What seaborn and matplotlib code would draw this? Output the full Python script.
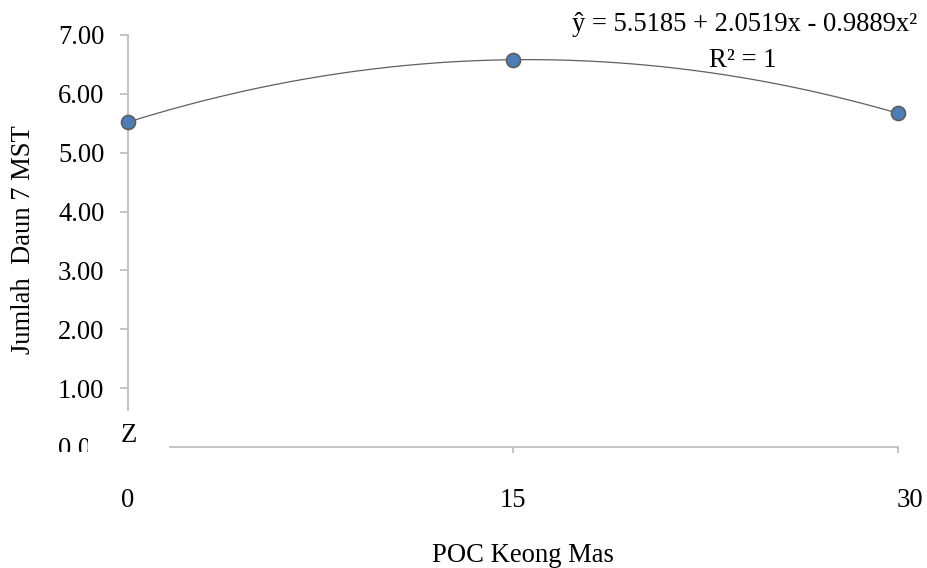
import matplotlib
matplotlib.use("Agg")
import matplotlib.pyplot as plt
import seaborn as sns
import pandas as pd
from matplotlib.transforms import Bbox, TransformedBbox, IdentityTransform, ScaledTranslation

# data
doses = [0, 15, 30]
leaves = [5.52, 6.58, 5.67]
y_ticks = [0, 1, 2, 3, 4, 5, 6, 7]
equation = "ŷ = 5.5185 + 2.0519x - 0.9889x²"
r2_text = "R² = 1"

df = pd.DataFrame({"POC Keong Mas": doses, "Jumlah Daun": leaves})

sns.set_theme(style="white")
plt.rcParams["font.family"] = ["Liberation Serif", "DejaVu Serif"]
plt.rcParams["text.color"] = "black"
plt.rcParams["axes.labelcolor"] = "black"
plt.rcParams["xtick.labelcolor"] = "black"
plt.rcParams["ytick.labelcolor"] = "black"

FS = 19.2
W, H = 927, 568
fig = plt.figure(figsize=(W / 100, H / 100), dpi=100)
ax = fig.add_axes([128 / W, 1 - 447 / H, (898 - 128) / W, (447 - 35) / H])

sns.regplot(data=df, x="POC Keong Mas", y="Jumlah Daun", order=2, ci=None,
            scatter=False, ax=ax, line_kws=dict(color="#5f5f5f", lw=0.9))
sns.scatterplot(data=df, x="POC Keong Mas", y="Jumlah Daun", ax=ax, s=100,
                color="#4a7ebb", edgecolor="#5f5f5f", linewidth=1.3,
                zorder=5, clip_on=False)

ax.set_xlim(0, 30)
ax.set_ylim(0, 7)
ax.set_xticks(doses)
ax.set_xticklabels([str(d) for d in doses])
ax.set_yticks(y_ticks)
ax.set_yticklabels([f"{v:.2f}" for v in y_ticks])

for s in ["top", "right"]:
    ax.spines[s].set_visible(False)
for s in ["left", "bottom"]:
    ax.spines[s].set_color("#bfbfbf")
    ax.spines[s].set_linewidth(1.3)
ax.spines["left"].set_bounds(0.63, 7)
ax.spines["bottom"].set_bounds(1.64, 30)

ax.tick_params(axis="y", which="major", direction="out", length=6, width=1.3,
               color="#bfbfbf", labelsize=FS, labelcolor="black", pad=11, left=True)
ax.tick_params(axis="x", which="major", direction="out", length=4.5, width=1.3,
               color="#bfbfbf", labelsize=FS, labelcolor="black", pad=25, bottom=True)
ax.xaxis.get_major_ticks()[0].tick1line.set_visible(False)
ax.yaxis.get_major_ticks()[0].tick1line.set_visible(False)

# shift "30" label slightly right
lbl30 = ax.get_xticklabels()[2]
lbl30.set_transform(lbl30.get_transform() + ScaledTranslation(12 / 100, 0, fig.dpi_scale_trans))

# clip the 0.00 label as in reference
lab0 = ax.yaxis.get_major_ticks()[0].label1
lab0.set_clip_box(TransformedBbox(Bbox([[0, H - 452], [88, H]]), IdentityTransform()))
lab0.set_clip_on(True)

ax.set_xlabel("POC Keong Mas", fontsize=FS, color="black")
ax.set_ylabel("Jumlah  Daun 7 MST", fontsize=FS, color="black")
ax.xaxis.label.set_va("center")
ax.yaxis.label.set_va("center")
ax.xaxis.set_label_coords((523 - 128) / 770, (447 - 555) / 412)
ax.yaxis.set_label_coords((24 - 128) / 770, (447 - 240) / 412)

ax.text(24.04, 7.17, equation, ha="center", va="center", fontsize=FS, color="black", clip_on=False)
ax.text(23.96, 6.57, r2_text, ha="center", va="center", fontsize=FS, color="black", clip_on=False)

# axis-break mark
fig.text(129 / W, 1 - 436 / H, "Z", ha="center", va="center", fontsize=FS, color="black")

fig.savefig("out.png", dpi=100)
